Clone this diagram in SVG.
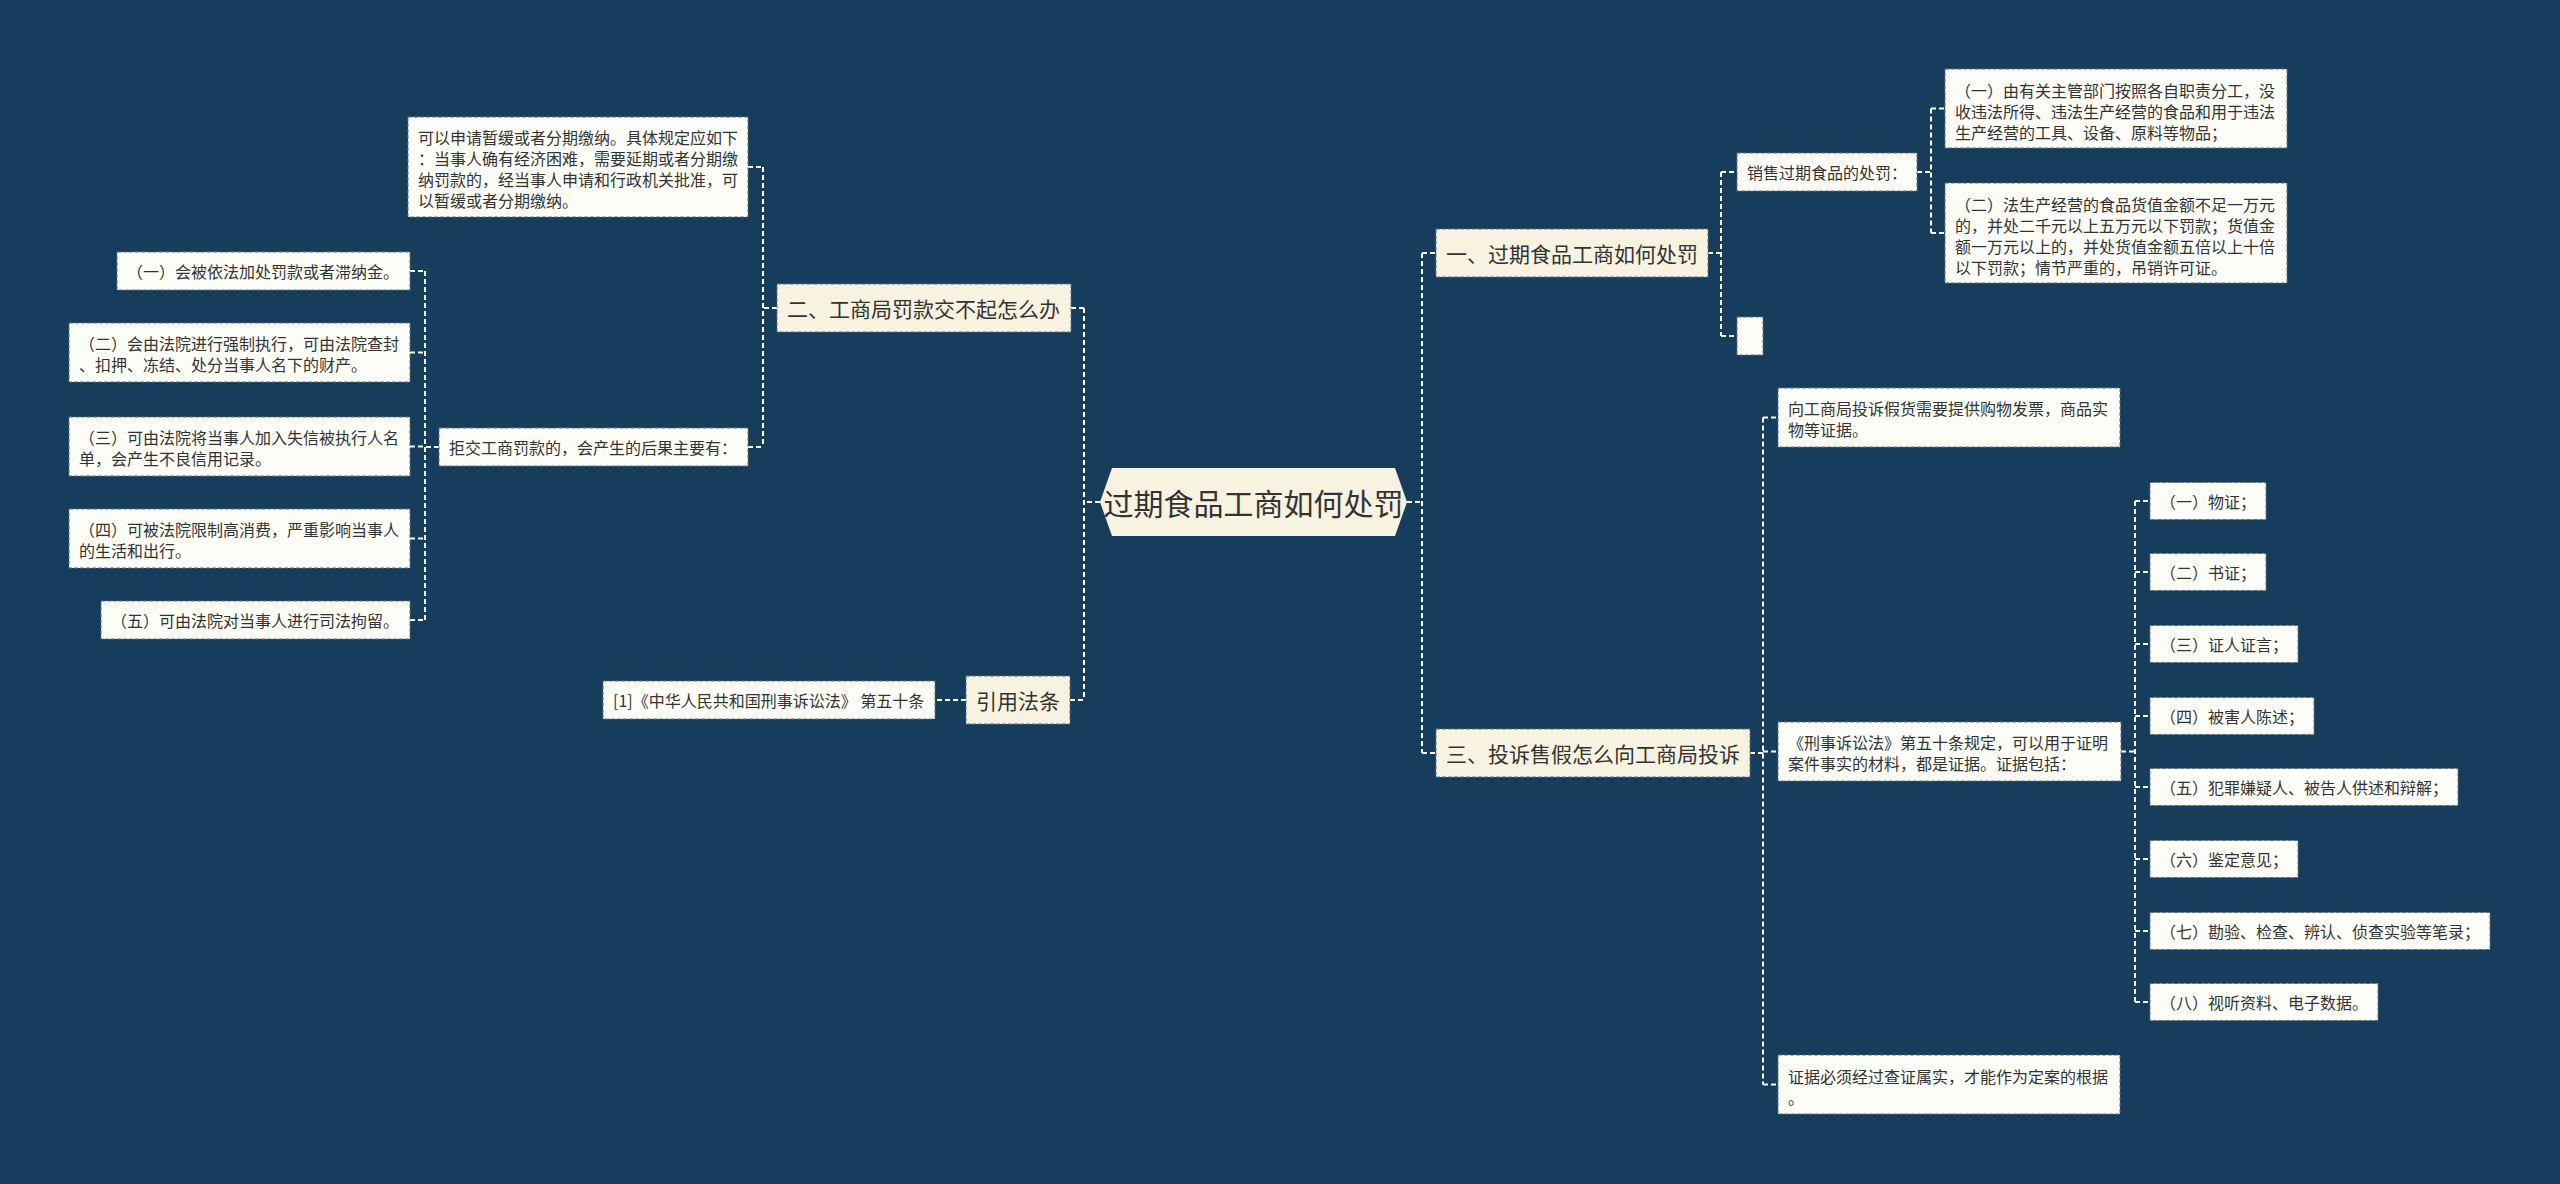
<svg xmlns="http://www.w3.org/2000/svg" width="2560" height="1184" viewBox="0 0 2560 1184">
<style>
.bg{fill:#173d5c}
.l1{fill:#f8f3e1;stroke:#60717f;stroke-width:1;stroke-dasharray:4 2}
.lf{fill:#fdfdf8;stroke:#60717f;stroke-width:1;stroke-dasharray:4 2}
.root{fill:#f8f3e1}
.t{font-family:"Noto Sans CJK SC","Noto Sans",sans-serif;fill:#333333;dominant-baseline:central}
.t16{font-size:16px}
.t21{font-size:21px}
.t30{font-size:30px}
.c{fill:none;stroke:#ffffff;stroke-width:2;stroke-dasharray:5 3}
</style>
<rect class="bg" x="0" y="0" width="2560" height="1184"/>
<g id="connectors">
<path class="c" d="M1100 502H1084M1084 308V700M1071 308H1084M1070 700H1084"/>
<path class="c" d="M1407 502H1422M1422 253V753M1422 253H1436M1422 753H1436"/>
<path class="c" d="M777 308H763M763 167V447M748 167H763M748 447H763"/>
<path class="c" d="M439 447H425M425 271V620M410 271H425M410 352.5H425M410 446.5H425M410 538.5H425M410 620H425"/>
<path class="c" d="M966 700H935"/>
<path class="c" d="M1708 253H1721M1721 172V336M1721 172H1737M1721 336H1737"/>
<path class="c" d="M1917 172H1931M1931 108.5V233M1931 108.5H1945M1931 233H1945"/>
<path class="c" d="M1750 753H1763M1763 417.5V1084.5M1763 417.5H1778M1763 751.5H1778M1763 1084.5H1778"/>
<path class="c" d="M2121 751.5H2135M2135 501V1002M2135 501H2150M2135 572H2150M2135 644H2150M2135 716H2150M2135 787H2150M2135 859H2150M2135 931H2150M2135 1002H2150"/>
</g>
<g id="root">
<polygon class="root" points="1100,502 1112,468 1395,468 1407,502 1395,536 1112,536"/>
<text class="t t30" x="1253.5" y="502" text-anchor="middle">过期食品工商如何处罚</text>
</g>
<g id="n2">
<rect class="l1" x="777" y="284" width="294" height="48"/>
<text class="t t21" x="787" y="308">二、工商局罚款交不起怎么办</text>
</g>
<g id="n2a">
<rect class="lf" x="408" y="117" width="340" height="100"/>
<text class="t t16" x="418" y="137">可以申请暂缓或者分期缴纳。具体规定应如下</text>
<text class="t t16" x="418" y="158">：当事人确有经济困难，需要延期或者分期缴</text>
<text class="t t16" x="418" y="179">纳罚款的，经当事人申请和行政机关批准，可</text>
<text class="t t16" x="418" y="200">以暂缓或者分期缴纳。</text>
</g>
<g id="n2b">
<rect class="lf" x="439" y="428" width="309" height="38"/>
<text class="t t16" x="449" y="447">拒交工商罚款的，会产生的后果主要有：</text>
</g>
<g id="n2b1">
<rect class="lf" x="117" y="252" width="293" height="38"/>
<text class="t t16" x="127" y="271">（一）会被依法加处罚款或者滞纳金。</text>
</g>
<g id="n2b2">
<rect class="lf" x="69" y="323" width="341" height="59"/>
<text class="t t16" x="79" y="343">（二）会由法院进行强制执行，可由法院查封</text>
<text class="t t16" x="79" y="364">、扣押、冻结、处分当事人名下的财产。</text>
</g>
<g id="n2b3">
<rect class="lf" x="69" y="417" width="341" height="59"/>
<text class="t t16" x="79" y="437">（三）可由法院将当事人加入失信被执行人名</text>
<text class="t t16" x="79" y="458">单，会产生不良信用记录。</text>
</g>
<g id="n2b4">
<rect class="lf" x="69" y="509" width="341" height="59"/>
<text class="t t16" x="79" y="529">（四）可被法院限制高消费，严重影响当事人</text>
<text class="t t16" x="79" y="550">的生活和出行。</text>
</g>
<g id="n2b5">
<rect class="lf" x="101" y="601" width="309" height="38"/>
<text class="t t16" x="111" y="620">（五）可由法院对当事人进行司法拘留。</text>
</g>
<g id="n4">
<rect class="l1" x="966" y="676" width="104" height="48"/>
<text class="t t21" x="976" y="700">引用法条</text>
</g>
<g id="n4a">
<rect class="lf" x="603" y="681" width="332" height="38"/>
<text class="t t16" x="613" y="700">[1]《中华人民共和国刑事诉讼法》 第五十条</text>
</g>
<g id="n1">
<rect class="l1" x="1436" y="229" width="272" height="48"/>
<text class="t t21" x="1446" y="253">一、过期食品工商如何处罚</text>
</g>
<g id="n1a">
<rect class="lf" x="1737" y="153" width="180" height="38"/>
<text class="t t16" x="1747" y="172">销售过期食品的处罚：</text>
</g>
<g id="n1b">
<rect class="lf" x="1737" y="317" width="26" height="38"/>
</g>
<g id="n1a1">
<rect class="lf" x="1945" y="69" width="342" height="79"/>
<text class="t t16" x="1955" y="90">（一）由有关主管部门按照各自职责分工，没</text>
<text class="t t16" x="1955" y="111">收违法所得、违法生产经营的食品和用于违法</text>
<text class="t t16" x="1955" y="132">生产经营的工具、设备、原料等物品；</text>
</g>
<g id="n1a2">
<rect class="lf" x="1945" y="183" width="342" height="100"/>
<text class="t t16" x="1955" y="204">（二）法生产经营的食品货值金额不足一万元</text>
<text class="t t16" x="1955" y="225">的，并处二千元以上五万元以下罚款；货值金</text>
<text class="t t16" x="1955" y="246">额一万元以上的，并处货值金额五倍以上十倍</text>
<text class="t t16" x="1955" y="267">以下罚款；情节严重的，吊销许可证。</text>
</g>
<g id="n3">
<rect class="l1" x="1436" y="729" width="314" height="48"/>
<text class="t t21" x="1446" y="753">三、投诉售假怎么向工商局投诉</text>
</g>
<g id="n3a">
<rect class="lf" x="1778" y="388" width="342" height="59"/>
<text class="t t16" x="1788" y="408">向工商局投诉假货需要提供购物发票，商品实</text>
<text class="t t16" x="1788" y="429">物等证据。</text>
</g>
<g id="n3b">
<rect class="lf" x="1778" y="722" width="343" height="59"/>
<text class="t t16" x="1788" y="742">《刑事诉讼法》第五十条规定，可以用于证明</text>
<text class="t t16" x="1788" y="763">案件事实的材料，都是证据。证据包括：</text>
</g>
<g id="n3c">
<rect class="lf" x="1778" y="1055" width="342" height="59"/>
<text class="t t16" x="1788" y="1076">证据必须经过查证属实，才能作为定案的根据</text>
<text class="t t16" x="1788" y="1097">。</text>
</g>
<g id="n3b1">
<rect class="lf" x="2150" y="482.5" width="116" height="37"/>
<text class="t t16" x="2160" y="501">（一）物证；</text>
</g>
<g id="n3b2">
<rect class="lf" x="2150" y="553.5" width="116" height="37"/>
<text class="t t16" x="2160" y="572">（二）书证；</text>
</g>
<g id="n3b3">
<rect class="lf" x="2150" y="625.5" width="148" height="37"/>
<text class="t t16" x="2160" y="644">（三）证人证言；</text>
</g>
<g id="n3b4">
<rect class="lf" x="2150" y="697.5" width="164" height="37"/>
<text class="t t16" x="2160" y="716">（四）被害人陈述；</text>
</g>
<g id="n3b5">
<rect class="lf" x="2150" y="768.5" width="308" height="37"/>
<text class="t t16" x="2160" y="787">（五）犯罪嫌疑人、被告人供述和辩解；</text>
</g>
<g id="n3b6">
<rect class="lf" x="2150" y="840.5" width="148" height="37"/>
<text class="t t16" x="2160" y="859">（六）鉴定意见；</text>
</g>
<g id="n3b7">
<rect class="lf" x="2150" y="912.5" width="340" height="37"/>
<text class="t t16" x="2160" y="931">（七）勘验、检查、辨认、侦查实验等笔录；</text>
</g>
<g id="n3b8">
<rect class="lf" x="2150" y="983.5" width="228" height="37"/>
<text class="t t16" x="2160" y="1002">（八）视听资料、电子数据。</text>
</g>
</svg>
